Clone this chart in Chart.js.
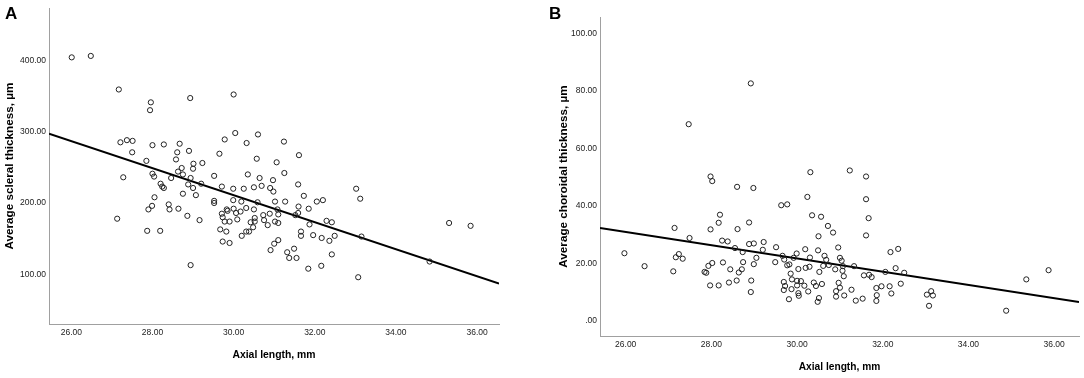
<!DOCTYPE html>
<html>
<head>
<meta charset="utf-8">
<script src="https://cdn.jsdelivr.net/npm/chart.js@4.4.1/dist/chart.umd.min.js"></script>
<style>
  html, body { margin: 0; padding: 0; background: #fff; }
  #wrap { position: relative; width: 1084px; height: 378px; overflow: hidden; }
  canvas { position: absolute; top: 0; }
  #chartA { left: 0; }
  #chartB { left: 542px; }
  .panel { position: absolute; top: 5px; font: bold 17px "Liberation Sans", Arial, sans-serif; line-height: 1; color: #000; }
</style>
</head>
<body>
<div id="wrap">
  <canvas id="chartA" width="542" height="378"></canvas>
  <canvas id="chartB" width="542" height="378"></canvas>
  <div class="panel" style="left:5px">A</div>
  <div class="panel" style="left:549px">B</div>
</div>
<script>
// Panel A: axial length (mm) vs average scleral thickness (µm)
const axialA = [
  26.01, 26.48, 27.17, 27.96, 27.94, 28.93, 30.00, 30.04, 30.60, 27.21,
  27.37, 27.51, 27.50, 28.00, 28.28, 28.67, 28.61, 28.90, 29.78, 29.65,
  30.32, 31.24, 31.61, 30.57, 27.85, 28.58, 29.23, 29.01, 29.00, 28.72,
  28.63, 28.75, 28.00, 28.04, 27.28, 28.46, 28.94, 29.52, 30.35, 30.64,
  30.97, 31.25, 31.06, 28.88, 29.20, 28.20, 28.24, 28.28, 29.00, 29.71,
  29.99, 30.25, 30.50, 30.69, 30.90, 30.98, 31.59, 28.75, 29.07, 28.05,
  31.73, 33.02, 33.12, 29.52, 29.52, 29.99, 30.19, 30.59, 31.02, 31.27,
  32.05, 32.20, 28.40, 27.99, 27.90, 28.42, 28.64, 29.71, 29.83, 29.73,
  29.85, 30.00, 30.06, 30.17, 30.31, 30.50, 31.08, 31.60, 31.85, 28.86,
  29.16, 27.13, 29.78, 29.90, 30.09, 30.42, 30.52, 30.52, 30.73, 30.75,
  30.84, 30.89, 31.02, 31.10, 31.10, 31.52, 31.59, 31.87, 32.29, 32.42,
  27.87, 28.19, 29.67, 29.82, 30.31, 30.38, 30.48, 30.20, 31.66, 31.66,
  31.96, 32.17, 32.36, 32.49, 33.15, 29.73, 29.90, 31.10, 31.00, 30.91,
  31.32, 31.37, 31.49, 31.55, 32.42, 28.94, 31.84, 32.16, 33.07, 34.83,
  35.31, 35.84
];
const scleralA = [
  404, 406, 359, 341, 330, 347, 352, 298, 296, 285,
  288, 287, 271, 281, 282, 283, 271, 273, 289, 269,
  284, 286, 267, 262, 259, 261, 256, 255, 248, 249,
  244, 240, 241, 237, 236, 235, 235, 238, 240, 235,
  232, 242, 257, 226, 227, 227, 223, 221, 221, 223,
  220, 220, 222, 224, 221, 216, 226, 213, 211, 208,
  210, 220, 206, 203, 200, 204, 202, 201, 202, 202,
  202, 204, 198, 196, 191, 191, 192, 185, 191, 180,
  189, 192, 186, 188, 193, 191, 191, 195, 192, 182,
  176, 178, 174, 174, 177, 173, 174, 179, 183, 176,
  169, 185, 174, 172, 184, 183, 186, 170, 175, 173,
  161, 161, 163, 160, 160, 160, 166, 154, 160, 154,
  155, 151, 147, 154, 153, 146, 144, 148, 143, 134,
  131, 123, 136, 123, 128, 113, 108, 112, 96, 118,
  172, 168
];
const fitXA = [25.45, 36.54];
const fitYA = [297, 87];
const xTicksA = [26, 28, 30, 32, 34, 36];
const yTicksA = [100, 200, 300, 400];

// Panel B: axial length (mm) vs average choroidal thickness (µm)
const axialB = [
  25.97, 26.44, 27.11, 27.14, 27.17, 27.24, 27.33, 27.47, 27.49, 27.84,
  27.88, 27.93, 28.02, 27.98, 28.02, 27.98, 27.97, 28.17, 28.17, 28.20,
  28.25, 28.27, 28.38, 28.44, 28.41, 28.55, 28.60, 28.61, 28.59, 28.64,
  28.71, 28.74, 28.73, 28.88, 28.88, 28.92, 28.93, 28.92, 28.98, 28.99,
  28.99, 29.05, 29.20, 29.22, 29.49, 29.51, 29.63, 29.77, 29.66, 29.70,
  29.69, 29.69, 29.72, 29.77, 29.82, 29.81, 29.85, 29.88, 29.87, 29.92,
  29.99, 30.00, 30.00, 30.03, 30.03, 30.04, 30.09, 30.17, 30.19, 30.20,
  30.24, 30.26, 30.29, 30.30, 30.31, 30.35, 30.39, 30.44, 30.49, 30.50,
  30.48, 30.51, 30.52, 30.56, 30.58, 30.61, 30.64, 30.68, 30.72, 30.74,
  30.84, 30.89, 30.91, 30.91, 30.96, 30.97, 31.00, 31.00, 31.04, 31.07,
  31.06, 31.09, 31.10, 31.23, 31.27, 31.33, 31.37, 31.53, 31.56, 31.61,
  31.61, 31.61, 31.67, 31.68, 31.74, 31.85, 31.86, 31.85, 31.97, 32.06,
  32.18, 32.16, 32.20, 32.30, 32.36, 32.42, 32.50, 33.03, 33.08, 33.13,
  33.17, 34.88, 35.35, 35.87
];
const choroidalB = [
  23.6, 19.1, 17.3, 32.4, 22.2, 23.3, 21.7, 68.5, 28.9, 17.1,
  16.8, 19.2, 20.2, 50.3, 48.7, 31.9, 12.4, 12.4, 34.2, 37.0,
  28.0, 20.4, 27.7, 18.0, 13.4, 25.4, 46.7, 32.0, 14.1, 16.9,
  18.0, 20.5, 24.0, 34.3, 26.8, 82.7, 14.1, 10.1, 46.3, 27.0,
  19.8, 22.0, 24.8, 27.5, 20.5, 25.7, 40.3, 40.6, 22.7, 21.4,
  13.6, 10.8, 12.2, 19.4, 19.7, 7.6, 16.5, 14.5, 11.1, 22.0,
  23.5, 14.0, 12.4, 18.1, 9.7, 8.8, 13.9, 12.3, 25.0, 18.5,
  43.2, 10.3, 18.9, 22.1, 51.8, 36.8, 13.4, 12.2, 24.6, 29.5,
  6.7, 8.0, 17.1, 36.3, 12.9, 19.2, 22.7, 21.3, 33.1, 19.5,
  30.8, 18.0, 10.4, 8.5, 25.6, 13.3, 11.6, 22.0, 21.0, 19.1,
  17.5, 15.6, 8.9, 52.4, 10.9, 19.1, 7.1, 7.8, 15.9, 42.4,
  50.3, 29.8, 35.8, 16.1, 15.3, 11.5, 9.0, 7.0, 12.1, 17.1,
  24.0, 12.1, 9.6, 18.4, 25.1, 13.0, 16.8, 9.2, 5.3, 10.4,
  8.9, 3.6, 14.5, 17.7
];
const fitXB = [25.4, 36.58];
const fitYB = [32.4, 6.6];
const xTicksB = [26, 28, 30, 32, 34, 36];
const yTicksB = [0, 20, 40, 60, 80, 100];

const tickFont = { family: "'Liberation Sans Narrow', 'Liberation Sans', Arial, sans-serif", size: 8.5 };
const titleFamily = "'Liberation Sans', Arial, sans-serif";

function fmt(v) {
  return v === 0 ? '.00' : Number(v).toFixed(2);
}

function makeChart(id, xs, ys, fitX, fitY, xTicks, yTicks, o) {
  const points = xs.map((x, i) => ({ x: x, y: ys[i] }));
  const fit = fitX.map((x, i) => ({ x: x, y: fitY[i] }));
  return new Chart(document.getElementById(id), {
    type: 'scatter',
    data: {
      datasets: [
        {
          data: points,
          pointRadius: 2.6,
          pointBorderWidth: 1,
          pointBorderColor: '#222',
          pointBackgroundColor: 'rgba(255,255,255,0)'
        },
        {
          data: fit,
          showLine: true,
          borderColor: '#000',
          borderWidth: 2,
          pointRadius: 0
        }
      ]
    },
    options: {
      responsive: false,
      animation: false,
      devicePixelRatio: 1,
      layout: { padding: { left: 0, top: o.top, right: o.right, bottom: 0 } },
      plugins: { legend: { display: false }, tooltip: { enabled: false } },
      scales: {
        x: {
          type: 'linear',
          min: o.xmin,
          max: o.xmax,
          grid: { display: false, drawTicks: false },
          border: { display: true, color: '#a0a0a0', width: 1 },
          afterBuildTicks: s => { s.ticks = xTicks.map(v => ({ value: v })); },
          afterFit: s => { s.height = o.xh; },
          ticks: { font: tickFont, color: '#222', padding: 4, maxRotation: 0, autoSkip: false, callback: v => fmt(v) },
          title: {
            display: true,
            text: 'Axial length, mm',
            color: '#000',
            font: { family: titleFamily, size: o.xtSize, weight: 'bold' },
            padding: { top: 0, bottom: o.xtPad }
          }
        },
        y: {
          type: 'linear',
          min: o.ymin,
          max: o.ymax,
          grid: { display: false, drawTicks: false },
          border: { display: true, color: '#a0a0a0', width: 1 },
          afterBuildTicks: s => { s.ticks = yTicks.map(v => ({ value: v })); },
          afterFit: s => { s.width = o.yw; },
          ticks: { font: tickFont, color: '#222', padding: 3, autoSkip: false, callback: v => fmt(v) },
          title: {
            display: true,
            text: o.ytitle,
            color: '#000',
            font: { family: titleFamily, size: 11.7, weight: 'bold' },
            padding: { top: o.ytPad, bottom: 0 }
          }
        }
      }
    }
  });
}

makeChart('chartA', axialA, scleralA, fitXA, fitYA, xTicksA, yTicksA, {
  xmin: 25.45, xmax: 36.54, ymin: 30.5, ymax: 473,
  top: 4, right: 43, xh: 54, yw: 49,
  xtSize: 10.4, xtPad: 16.8, ytPad: 2.7,
  ytitle: 'Average scleral thickness, µm'
});

makeChart('chartB', axialB, choroidalB, fitXB, fitYB, xTicksB, yTicksB, {
  xmin: 25.4, xmax: 36.58, ymin: -5.2, ymax: 105.8,
  top: 17, right: 4, xh: 42, yw: 58,
  xtSize: 10.2, xtPad: 4.8, ytPad: 14.6,
  ytitle: 'Average choroidal thickness, µm'
});
</script>
</body>
</html>
